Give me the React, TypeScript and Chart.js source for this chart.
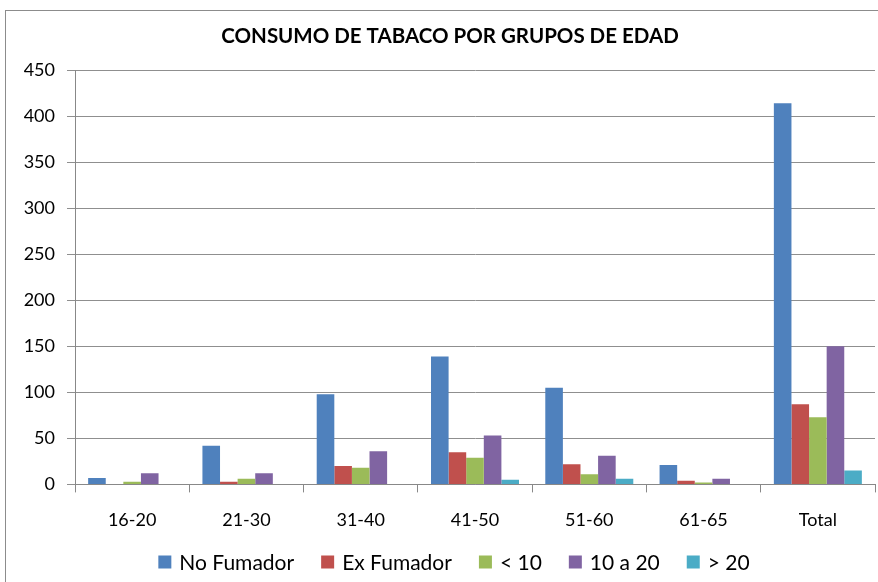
import React, { useEffect, useRef } from "react";
import { Chart, registerables } from "chart.js";

Chart.register(...registerables);

const categories = ["16-20", "21-30", "31-40", "41-50", "51-60", "61-65", "Total"];
const noFumador = [7, 42, 98, 139, 105, 21, 414];
const exFumador = [0, 3, 20, 35, 22, 4, 87];
const menos10 = [3, 6, 18, 29, 11, 2, 73];
const de10a20 = [12, 12, 36, 53, 31, 6, 150];
const mas20 = [0, 0, 0, 5, 6, 0, 15];
const seriesNames = ["No Fumador", "Ex Fumador", "< 10", "10 a 20", "> 20"];
const colors = ["#4F81BD", "#C0504D", "#9BBB59", "#8064A2", "#4BACC6"];
const title = "CONSUMO DE TABACO POR GRUPOS DE EDAD";

const legendFont = "21px Lato";
const titleFont = "bold 20.5px Lato";

const titleAndLegend = {
  id: "titleAndLegend",
  afterDraw(chart: any) {
    const ctx = chart.ctx;
    ctx.save();
    // title
    ctx.font = titleFont;
    ctx.fillStyle = "#000";
    ctx.textAlign = "center";
    ctx.textBaseline = "middle";
    ctx.fillText(title, chart.width / 2 + 8, 25);
    // legend
    const ds = chart.data.datasets;
    const box = 13;
    const gapBoxText = 8;
    const gapItems = 27;
    ctx.font = legendFont;
    const widths = ds.map((d: any) => ctx.measureText(d.label).width);
    const total =
      widths.reduce((a: number, b: number) => a + b, 0) +
      ds.length * (box + gapBoxText) +
      (ds.length - 1) * gapItems;
    let x = chart.width / 2 + 12 - total / 2;
    const y = chart.height - 19;
    ctx.textAlign = "left";
    ds.forEach((d: any, i: number) => {
      ctx.fillStyle = d.backgroundColor;
      ctx.fillRect(x, y - box / 2, box, box);
      x += box + gapBoxText;
      ctx.fillStyle = "#000";
      ctx.fillText(d.label, x, y + 1);
      x += widths[i] + gapItems;
    });
    ctx.restore();
  },
};

export default function App() {
  const ref = useRef<HTMLCanvasElement | null>(null);
  useEffect(() => {
    if (!ref.current) return;
    const data = [noFumador, exFumador, menos10, de10a20, mas20];
    const chart = new Chart(ref.current, {
      type: "bar",
      data: {
        labels: categories,
        datasets: data.map((d, i) => ({
          label: seriesNames[i],
          data: d,
          backgroundColor: colors[i],
          borderWidth: 0,
          barPercentage: 1,
          categoryPercentage: 0.77,
        })),
      },
      plugins: [titleAndLegend],
      options: {
        animation: false,
        responsive: false,
        maintainAspectRatio: false,
        layout: { padding: { left: 0, right: 3, top: 59, bottom: 33 } },
        plugins: {
          title: { display: false },
          legend: { display: false },
          tooltip: { enabled: false },
        },
        scales: {
          x: {
            grid: {
              offset: true,
              drawOnChartArea: false,
              color: "#888",
              tickLength: 8,
            },
            border: { color: "#888" },
            ticks: { color: "#000", font: { family: "Lato", size: 18 }, padding: 17 },
          },
          y: {
            min: 0,
            max: 450,
            afterFit: (s: any) => {
              s.width = 69;
            },
            ticks: {
              stepSize: 50,
              color: "#000",
              font: { family: "Lato", size: 18 },
              padding: 12,
            },
            grid: { color: "#8f8f8f", tickLength: 8 },
            border: { color: "#888" },
          },
        },
      },
    });
    return () => chart.destroy();
  }, []);
  return (
    <div
      style={{
        position: "fixed",
        left: 5,
        top: 10,
        width: 874,
        height: 572,
        border: "1px solid #8c8c8c",
        background: "#fff",
        overflow: "hidden",
      }}
    >
      <canvas ref={ref} width={872} height={570} style={{ display: "block" }} />
    </div>
  );
}
